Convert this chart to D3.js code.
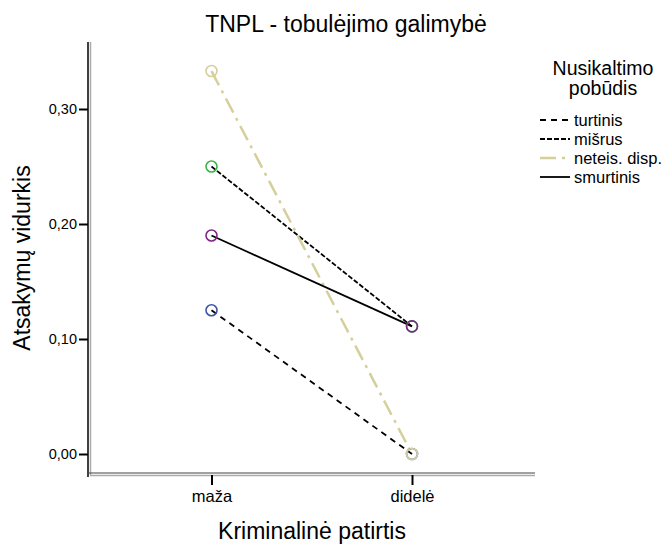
<!DOCTYPE html>
<html><head><meta charset="utf-8">
<script src="https://cdn.jsdelivr.net/npm/d3@7"></script>
<style>body{margin:0;background:#fff}svg{display:block;font-family:"Liberation Sans",Arial,sans-serif}</style>
</head><body><svg id="c" width="668" height="546"></svg>
<script>
const categories = ["maža", "didelė"];
const seriesNames = ["turtinis", "mišrus", "neteis. disp.", "smurtinis"];
const turtinis = [0.125, 0.0];
const misrus = [0.25, 0.111];
const neteis = [0.333, 0.0];
const smurtinis = [0.19, 0.111];
const yTicks = [0.0, 0.1, 0.2, 0.3];

const series = [
  {name: seriesNames[0], values: turtinis, stroke: "#000", dash: "6,5", width: 1.8, marker: "#3f56a8"},
  {name: seriesNames[1], values: misrus, stroke: "#000", dash: "5,2", width: 1.8, marker: "#3bb54a"},
  {name: seriesNames[2], values: neteis, stroke: "#d4cf9b", dash: "16,6,3,6", width: 2.5, marker: "#d4cf9b"},
  {name: seriesNames[3], values: smurtinis, stroke: "#000", dash: null, width: 1.8, marker: "#7d2a86"}
];

const svg = d3.select("#c");
const y = d3.scaleLinear().domain([0, 0.3]).range([454, 109]);
const x = d3.scalePoint().domain(categories).range([211.5, 412]);

const L = 88, R = 535, T = 42, B = 473;

// frame
svg.append("line").attr("x1", L+2.5).attr("x2", L+2.5).attr("y1", T).attr("y2", B+2).attr("stroke", "#aaa").attr("stroke-width", 1.5);
svg.append("line").attr("x1", L).attr("x2", L).attr("y1", T).attr("y2", B+4).attr("stroke", "#000").attr("stroke-width", 1.5);
svg.append("line").attr("x1", L).attr("x2", R).attr("y1", B).attr("y2", B).attr("stroke", "#444").attr("stroke-width", 1.2);
svg.append("line").attr("x1", L+2).attr("x2", R).attr("y1", B+2.5).attr("y2", B+2.5).attr("stroke", "#aaa").attr("stroke-width", 1.5);

// y axis
const yAxis = d3.axisLeft(y).tickValues(yTicks).tickSize(9).tickPadding(2)
  .tickFormat(d => d3.format(".2f")(d).replace(".", ","));
const ga = svg.append("g").attr("transform", `translate(${L},0)`).call(yAxis);
ga.select(".domain").remove();
ga.attr("font-size", null).attr("font-family", null);
ga.selectAll(".tick line").attr("stroke", "#000").attr("stroke-width", 2);
ga.selectAll("text").style("font-size", "14.5px").attr("fill", "#000");

// x axis
const xAxis = d3.axisBottom(x).tickSize(10).tickPadding(5);
const gx = svg.append("g").attr("transform", `translate(0,${B+2})`).call(xAxis);
gx.select(".domain").remove();
gx.attr("font-size", null).attr("font-family", null);
gx.selectAll(".tick line").attr("stroke", "#000").attr("stroke-width", 2);
gx.selectAll("text").style("font-size", "16.5px").attr("fill", "#000");

// titles
svg.append("text").attr("x", 346).attr("y", 32).attr("text-anchor", "middle").style("font-size", "23px").text("TNPL - tobulėjimo galimybė");
svg.append("text").attr("x", 312).attr("y", 539).attr("text-anchor", "middle").style("font-size", "23px").text("Kriminalinė patirtis");
svg.append("text").attr("transform", "translate(30,258) rotate(-90)").attr("text-anchor", "middle").style("font-size", "23px").text("Atsakymų vidurkis");

// lines
const line = d3.line().x((d, i) => x(categories[i])).y(d => y(d));
series.forEach(s => {
  svg.append("path").attr("d", line(s.values)).attr("fill", "none")
    .attr("stroke", s.stroke).attr("stroke-width", s.width)
    .attr("stroke-dasharray", s.dash);
});
series.forEach(s => {
  svg.selectAll(null).data(s.values).enter().append("circle")
    .attr("cx", (d, i) => x(categories[i])).attr("cy", d => y(d)).attr("r", 5.5)
    .attr("fill", "none").attr("stroke", s.marker).attr("stroke-width", 1.6);
});

// legend
svg.append("text").attr("x", 603).attr("y", 75).attr("text-anchor", "middle").style("font-size", "19.5px").text("Nusikaltimo");
svg.append("text").attr("x", 603).attr("y", 95).attr("text-anchor", "middle").style("font-size", "19.5px").text("pobūdis");
const lg = svg.append("g");
series.forEach((s, i) => {
  const yy = 120 + i * 19;
  lg.append("line").attr("x1", 540).attr("x2", 570).attr("y1", yy).attr("y2", yy)
    .attr("stroke", s.stroke).attr("stroke-width", s.width).attr("stroke-dasharray", s.dash);
  lg.append("text").attr("x", 574).attr("y", yy + 6).style("font-size", "16.5px").text(s.name);
});
</script></body></html>
